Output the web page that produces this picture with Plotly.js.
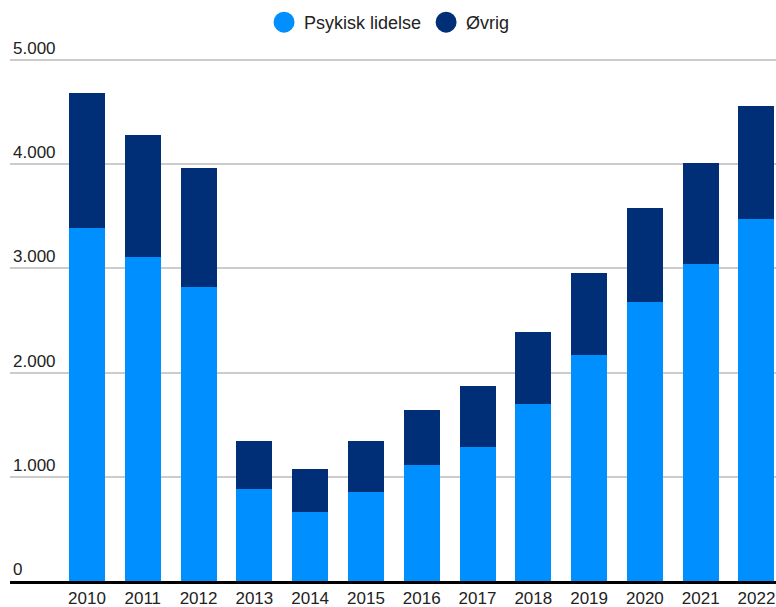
<!DOCTYPE html>
<html>
<head>
<meta charset="utf-8">
<script src="https://cdn.plot.ly/plotly-3.0.1.min.js"></script>
<style>html,body{margin:0;padding:0;background:#fff;}#chart{width:776px;height:607px;}</style>
</head>
<body>
<div id="chart"></div>
<script>
const years = ['2010','2011','2012','2013','2014','2015','2016','2017','2018','2019','2020','2021','2022'];
const psykisk = [3385, 3106, 2817, 885, 663, 856, 1115, 1288, 1702, 2173, 2673, 3038, 3471];
const totals  = [4683, 4279, 3962, 1346, 1077, 1346, 1644, 1875, 2385, 2952, 3577, 4010, 4558];
const ovrig = totals.map((t, i) => t - psykisk[i]);
const seriesNames = ['Psykisk lidelse', 'Øvrig'];
const colors = ['#008fff', '#002f78'];

const font = {family: '"Liberation Sans", Arial, sans-serif', size: 17, color: '#222'};

const traces = [
  {type: 'bar', x: years, y: psykisk, name: seriesNames[0], marker: {color: colors[0]}, showlegend: false},
  {type: 'bar', x: years, y: ovrig, name: seriesNames[1], marker: {color: colors[1]}, showlegend: false},
  {type: 'scatter', mode: 'markers', x: [null], y: [null], name: seriesNames[0],
   marker: {symbol: 'circle', size: 16, color: colors[0], line: {color: colors[0], width: 5}}},
  {type: 'scatter', mode: 'markers', x: [null], y: [null], name: seriesNames[1],
   marker: {symbol: 'circle', size: 16, color: colors[1], line: {color: colors[1], width: 5}}}
];

const layout = {
  width: 776, height: 607,
  margin: {l: 10, r: 0, t: 36, b: 26, pad: 0, autoexpand: false},
  paper_bgcolor: '#fff', plot_bgcolor: 'rgba(0,0,0,0)',
  barmode: 'stack',
  bargap: 0.355,
  separators: ',.',
  font: font,
  showlegend: true,
  legend: {
    orientation: 'h', xref: 'container', yref: 'container',
    x: 0.502, xanchor: 'center', y: 0.963, yanchor: 'middle',
    font: {family: font.family, size: 18, color: '#222'},
    itemclick: false, itemdoubleclick: false,
    traceorder: 'normal'
  },
  xaxis: {
    type: 'category',
    range: [-1.38, 12.35],
    automargin: false,
    showgrid: false, zeroline: false,
    showline: true, linecolor: '#000', linewidth: 3,
    ticks: '', tickfont: font,
    fixedrange: true
  },
  yaxis: {
    range: [0, 5230],
    automargin: false,
    dtick: 1000, tick0: 0,
    separatethousands: true,
    showgrid: true, gridcolor: '#cccccc', gridwidth: 2,
    zeroline: false, showline: false,
    ticks: '',
    ticklabelposition: 'inside top',
    tickfont: font,
    fixedrange: true
  }
};

Plotly.newPlot('chart', traces, layout, {displayModeBar: false, staticPlot: true});
</script>
</body>
</html>
